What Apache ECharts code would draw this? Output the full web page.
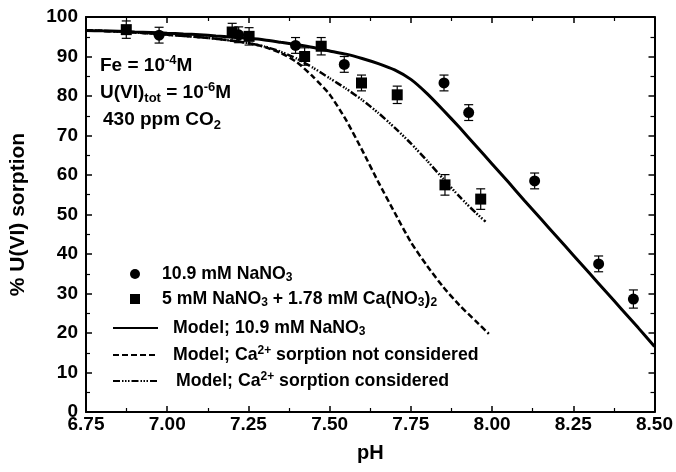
<!DOCTYPE html>
<html><head><meta charset="utf-8">
<script src="https://cdn.jsdelivr.net/npm/echarts@6/dist/echarts.min.js"></script>
<style>html,body{margin:0;padding:0;background:#fff}#c{width:676px;height:472px}</style>
</head><body><div id="c"></div><script>
// ---- data ----
const circlePH  = [6.975, 7.22, 7.395, 7.545, 7.852, 7.928, 8.131, 8.328, 8.435];
const circleVal = [95.4, 95.5, 92.8, 88.0, 83.3, 75.8, 58.5, 37.5, 28.6];
const circleErr = [2.0, 2.0, 2.0, 2.0, 2.0, 2.0, 2.0, 2.0, 2.3];

const squarePH  = [6.874, 7.20, 7.252, 7.423, 7.474, 7.598, 7.708, 7.855, 7.965];
const squareVal = [96.8, 96.2, 95.1, 90.0, 92.6, 83.3, 80.3, 57.5, 53.9];
const squareErr = [2.2, 2.2, 2.2, 2.2, 2.2, 2.0, 2.2, 2.6, 2.6];

const solidPH  = [6.75, 6.80, 6.85, 6.90, 6.95, 7.00, 7.05, 7.10, 7.15, 7.20, 7.25, 7.30, 7.35, 7.40, 7.45, 7.50, 7.55, 7.60,
                  7.65, 7.70, 7.75, 7.80, 7.85, 7.90, 7.95, 8.00, 8.05, 8.10, 8.15, 8.20, 8.25, 8.30, 8.35, 8.40, 8.45, 8.50];
const solidVal = [96.6, 96.5, 96.4, 96.2, 96.1, 95.9, 95.7, 95.5, 95.2, 94.9, 94.6, 94.2, 93.6, 93.0, 92.3, 91.4, 90.6, 89.5,
                  88.2, 86.6, 84.2, 80.6, 76.4, 72.0, 67.4, 62.8, 58.2, 53.5, 48.9, 44.3, 39.7, 35.1, 30.5, 25.9, 21.3, 16.6];

const dashPH  = [6.75, 6.80, 6.85, 6.90, 6.95, 7.00, 7.05, 7.10, 7.15, 7.20, 7.25, 7.30, 7.35, 7.40, 7.45, 7.50, 7.55, 7.60,
                 7.65, 7.70, 7.75, 7.80, 7.85, 7.90, 7.95, 7.99];
const dashVal = [96.6, 96.5, 96.3, 96.1, 95.8, 95.5, 95.2, 94.9, 94.5, 94.0, 93.4, 92.4, 90.9, 88.5, 84.8, 80.4, 74.0, 66.3,
                 58.2, 50.5, 43.0, 37.0, 31.6, 27.0, 23.0, 19.8];

const dotPH  = [6.75, 6.80, 6.85, 6.90, 6.95, 7.00, 7.05, 7.10, 7.15, 7.20, 7.25, 7.30, 7.35, 7.40, 7.45, 7.50, 7.55, 7.60,
                7.65, 7.70, 7.75, 7.80, 7.85, 7.90, 7.95, 7.98];
const dotVal = [96.6, 96.5, 96.3, 96.1, 95.8, 95.5, 95.2, 94.9, 94.5, 94.0, 93.4, 92.5, 91.2, 89.4, 87.1, 84.5, 81.9, 79.0,
                75.7, 72.0, 68.0, 63.6, 59.0, 54.5, 50.4, 48.2];

const xMin = 6.75, xMax = 8.5, xStep = 0.25;
const yMin = 0, yMax = 100, yStep = 10;

const legendLabels = {
  c:  '{sp0|}{t|10.9 mM NaNO}{sub|3}',
  s:  '{sp0|}{t|5 mM NaNO}{sub|3}{t| + 1.78 mM Ca(NO}{sub|3}{t|)}{sub|2}',
  m1: '{sp|}{t|Model; 10.9 mM NaNO}{sub|3}',
  m2: '{sp|}{t|Model; Ca}{sup|2+}{t| sorption not considered}',
  m3: '{sp2|}{t|Model; Ca}{sup|2+}{t| sorption considered}'
};

// ---- build ----
const zip = (a, b) => a.map((v, i) => [v, b[i]]);
const errData = (a, b, e) => a.map((v, i) => [v, b[i] - e[i], b[i] + e[i]]);
const FONT = 'Liberation Sans, Arial, Helvetica, sans-serif';

function errRender(params, api) {
  const x = api.value(0);
  const lo = api.coord([x, api.value(1)]);
  const hi = api.coord([x, api.value(2)]);
  const w = 4.5;
  const st = {stroke: '#000', lineWidth: 1.2};
  return {type: 'group', children: [
    {type: 'line', shape: {x1: lo[0], y1: lo[1], x2: hi[0], y2: hi[1]}, style: st},
    {type: 'line', shape: {x1: lo[0]-w, y1: lo[1], x2: lo[0]+w, y2: lo[1]}, style: st},
    {type: 'line', shape: {x1: hi[0]-w, y1: hi[1], x2: hi[0]+w, y2: hi[1]}, style: st}
  ]};
}

const axisCommon = {
  axisLine: {show: true, onZero: false, lineStyle: {color: '#000', width: 2}},
  axisTick: {show: true, inside: true, length: 6, lineStyle: {color: '#000', width: 1.5}},
  minorTick: {show: true, splitNumber: 2, length: 4, lineStyle: {color: '#000', width: 1.2}},
  splitLine: {show: false}
};
const rich = {
  t: {fontFamily: FONT, fontWeight: 'bold', fontSize: 17.7, color: '#000', lineHeight: 20, verticalAlign: 'middle'},
  sub: {fontFamily: FONT, fontWeight: 'bold', fontSize: 12, color: '#000', lineHeight: 13, verticalAlign: 'bottom'},
  sup: {fontFamily: FONT, fontWeight: 'bold', fontSize: 12, color: '#000', lineHeight: 13, verticalAlign: 'top'},
  sp0: {width: 17},
  sp: {width: 10},
  sp2: {width: 13}
};
const annRich = {
  t: {fontFamily: FONT, fontWeight: 'bold', fontSize: 19, fill: '#000', lineHeight: 24, verticalAlign: 'middle'},
  sub: {fontFamily: FONT, fontWeight: 'bold', fontSize: 13, fill: '#000', lineHeight: 14, verticalAlign: 'bottom'},
  sup: {fontFamily: FONT, fontWeight: 'bold', fontSize: 13, fill: '#000', lineHeight: 14, verticalAlign: 'top'}
};
const legendText = {rich: rich, fontFamily: FONT, fontWeight: 'bold', fontSize: 18, color: '#000'};
const hideSym = {opacity: 0, color: 'rgba(0,0,0,0)', borderWidth: 0};

const chart = echarts.init(document.getElementById('c'), null, {renderer: 'canvas'});
chart.setOption({
  animation: false,
  backgroundColor: '#fff',
  grid: {left: 86, right: 18, top: 17, bottom: 60},
  xAxis: [
    Object.assign({type: 'value', min: xMin, max: xMax, interval: xStep, position: 'bottom',
      name: 'pH', nameLocation: 'middle', nameGap: 31,
      nameTextStyle: {fontFamily: FONT, fontWeight: 'bold', fontSize: 20, color: '#000'},
      axisLabel: {fontFamily: FONT, fontWeight: 'bold', fontSize: 19, color: '#000', margin: 3,
        formatter: v => v.toFixed(2)}}, axisCommon),
    Object.assign({type: 'value', min: xMin, max: xMax, interval: xStep, position: 'top',
      axisLabel: {show: false}}, axisCommon)
  ],
  yAxis: [
    Object.assign({type: 'value', min: yMin, max: yMax, interval: yStep, position: 'left',
      name: '% U(VI) sorption', nameLocation: 'middle', nameGap: 57, nameRotate: 90,
      nameTextStyle: {fontFamily: FONT, fontWeight: 'bold', fontSize: 21, color: '#000'},
      axisLabel: {fontFamily: FONT, fontWeight: 'bold', fontSize: 19, color: '#000', margin: 8}}, axisCommon),
    Object.assign({type: 'value', min: yMin, max: yMax, interval: yStep, position: 'right',
      axisLabel: {show: false}}, axisCommon)
  ],
  legend: [
    {
      orient: 'vertical', left: 125, top: 260, itemWidth: 10, itemHeight: 10, itemGap: 6,
      data: [{name: 'c', icon: 'circle'}, {name: 's', icon: 'rect'}],
      formatter: n => legendLabels[n], textStyle: legendText
    },
    {
      orient: 'vertical', left: 107, top: 314, itemWidth: 45, itemHeight: 10, itemGap: 7,
      data: [{name: 'm1', itemStyle: hideSym}, {name: 'm2', itemStyle: hideSym}, {name: 'm3', itemStyle: hideSym}],
      formatter: n => legendLabels[n], textStyle: legendText
    }
  ],
  graphic: [
    {type: 'text', left: 100, top: 54, style: {text: '{t|Fe = 10}{sup|-4}{t|M}', rich: annRich}},
    {type: 'text', left: 100, top: 81, style: {text: '{t|U(VI)}{sub|tot}{t| = 10}{sup|-6}{t|M}', rich: annRich}},
    {type: 'text', left: 103, top: 110, style: {text: '{t|430 ppm CO}{sub|2}', rich: annRich}}
  ],
  series: [
    {name: 'm1', type: 'line', data: zip(solidPH, solidVal), symbol: 'none', smooth: 0.2,
      lineStyle: {color: '#000', width: 3}, itemStyle: {color: '#000'}, z: 2},
    {name: 'm2', type: 'line', data: zip(dashPH, dashVal), symbol: 'none', smooth: 0.2,
      lineStyle: {color: '#000', width: 2.5, type: [6, 3]}, itemStyle: {color: '#000'}, z: 2},
    {name: 'm3', type: 'line', data: zip(dotPH, dotVal), symbol: 'none', smooth: 0.2,
      lineStyle: {color: '#000', width: 2.5, type: [7, 2, 1.5, 1.5, 1.5, 1.5, 1.5, 2]}, itemStyle: {color: '#000'}, z: 2},
    {name: 'cerr', type: 'custom', renderItem: errRender, data: errData(circlePH, circleVal, circleErr), z: 3},
    {name: 'serr', type: 'custom', renderItem: errRender, data: errData(squarePH, squareVal, squareErr), z: 3},
    {name: 'c', type: 'scatter', data: zip(circlePH, circleVal), symbol: 'circle', symbolSize: 11,
      itemStyle: {color: '#000', opacity: 1}, z: 4},
    {name: 's', type: 'scatter', data: zip(squarePH, squareVal), symbol: 'rect', symbolSize: 11,
      itemStyle: {color: '#000', opacity: 1}, z: 4}
  ]
});
</script></body></html>
